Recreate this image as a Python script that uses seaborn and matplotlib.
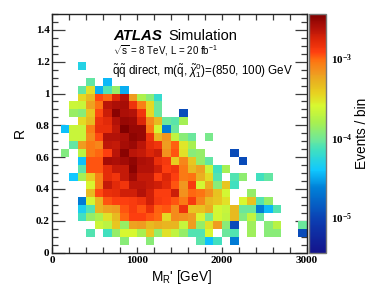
"""ATLAS simulation: R vs MR' event yields per bin (log colour scale)."""
import matplotlib
matplotlib.use("Agg")
import matplotlib.pyplot as plt
import numpy as np
import pandas as pd
import seaborn as sns
from matplotlib.colors import LinearSegmentedColormap, LogNorm
from matplotlib.ticker import FixedLocator, NullFormatter

W, H = 374, 290
na = np.nan

# log10(events / bin), one list per R bin (0.05 wide), MR' bins are 100 GeV wide
row_00 = []
row_01 = [na, na, na, na, na, na, na, na, -3.92, na, na, -3.92, na, na, na, na, na, -4.08, -4.43, -4.15, na, -4.66]
row_02 = [na, na, na, na, -4.1, na, -4.15, -3.88, -3.6, -3.6, -3.8, -3.4, -3.88, -3.5, -3.7, -3.88, -4.1, -4.1, -3.6, na, -4.03, -4.1, na, -3.84, na, -3.92, -3.92, na, na, -4.95]
row_03 = [na, na, na, na, na, -3.65, -3.72, -3.38, -3.86, -3.22, -3.2, -3.33, -3.27, -3.3, -3.3, -3.68, -3.2, -3.88, -3.5, -3.2, -3.92, -4.95, na, -3.84, na, -3.92, -3.74, na, na, -4.03]
row_04 = [na, na, na, -4.15, -3.88, -3.78, -3.5, -3.33, -3.0, -2.92, -2.92, -2.96, -3.0, -3.46, -3.12, -3.15, -3.2, -3.58, -3.97, -3.62, -3.7, -3.33, -3.95, -3.7, -4.03]
row_05 = [na, na, na, -4.35, -4.1, -3.3, -3.22, -3.2, -2.96, -2.89, -2.96, -2.82, -2.98, -2.96, -3.12, -2.84, -3.38, -3.36, -3.27, -3.62, -3.68, -3.33, -4.03, -4.03, -4.66, -4.45, -4.1]
row_06 = [na, na, na, -4.66, -3.62, -3.3, -2.96, -2.92, -2.92, -2.89, -2.84, -2.72, -2.88, -2.92, -2.96, -3.05, -2.89, -3.1, -3.33, -3.38, -3.5, na, -3.6, -3.36, -4.1, -3.88]
row_07 = [na, na, na, na, -3.33, -2.94, -2.82, -2.8, -2.72, -2.72, -2.62, -2.72, -2.9, -2.9, -2.7, -3.15, -3.0, -3.03, -3.15, -3.36, -3.62, na, na, -3.88]
row_08 = [na, na, na, na, -3.58, -3.08, -2.68, -2.78, -2.86, -2.64, -2.64, -2.68, -2.72, -2.78, -2.96, -3.17, -2.89, -3.62, -3.27, -3.92, -3.38, -4.15]
row_09 = [na, na, -4.4, -3.82, -3.42, -3.08, -2.8, -2.86, -2.68, -2.55, -2.68, -2.68, -2.9, -2.76, -2.92, -3.05, -3.02, -3.28, -3.48, -4.1, na, -4.1, -3.9, na, -4.15, -4.05]
row_10 = [na, na, na, -4.08, -2.96, -2.96, -2.8, -2.68, -2.68, -2.48, -2.62, -2.62, -2.72, -2.92, -2.86, -3.05, -3.33, -3.22, -3.65, -4.15, -3.82]
row_11 = [na, na, na, -4.43, -2.96, -2.96, -2.58, -2.6, -2.56, -2.5, -2.6, -2.62, -2.82, -2.88, -3.42, -3.1, -3.38, -3.88, -4.05, na, na, na, -4.95]
row_12 = [na, -3.95, na, -3.72, -3.05, -3.0, -2.92, -2.64, -2.48, -2.64, -2.68, -2.76, -2.7, -3.15, -2.96, -3.5, -3.92, -3.88, na, na, na, -4.95]
row_13 = [na, na, -4.05, -3.2, -3.05, -3.1, -2.66, -2.68, -2.58, -2.54, -2.64, -2.8, -2.86, -3.2, -2.98, -3.52, -3.8]
row_14 = [na, na, -3.66, -3.66, -3.12, -2.94, -2.62, -2.62, -2.6, -2.49, -2.53, -2.84, -3.3, -3.16, -3.7, -3.92, -4.03, na, -3.98]
row_15 = [na, -4.43, -3.66, -3.66, -3.07, -2.82, -2.82, -2.66, -2.44, -2.53, -2.53, -3.04, -3.62, -4.66, -4.03]
row_16 = [na, na, na, -3.48, -3.33, -2.84, -2.78, -2.62, -2.53, -2.55, -2.76, -3.12, -3.32, -4.03, -4.08, -3.82]
row_17 = [na, na, -3.86, -3.92, -3.38, -2.94, -2.7, -2.48, -2.6, -2.62, -2.86, -3.46, -4.03, na, na, -4.95]
row_18 = [na, na, -3.65, -3.66, -3.22, -3.02, -2.64, -2.6, -2.58, -2.84, -3.08, -3.46, -4.03]
row_19 = [na, na, na, -3.46, -3.33, -2.94, -3.0, -2.76, -2.62, -3.2, -3.78, -3.92, -4.2]
row_20 = [na, na, na, -4.05, -3.5, -4.48, -4.1, -3.88, -4.48]
row_21 = [na, na, na, na, -4.05, na, -4.45]
row_22 = []
row_23 = [na, na, na, -4.3]

rows = [row_00, row_01, row_02, row_03, row_04, row_05, row_06, row_07, row_08,
        row_09, row_10, row_11, row_12, row_13, row_14, row_15, row_16, row_17,
        row_18, row_19, row_20, row_21, row_22, row_23]

x_ticks = [0, 1000, 2000, 3000]
x_tick_labels = ["0", "1000", "2000", "3000"]
y_ticks = [0, 0.2, 0.4, 0.6, 0.8, 1.0, 1.2, 1.4]
y_tick_labels = ["0", "0.2", "0.4", "0.6", "0.8", "1", "1.2", "1.4"]
cbar_ticks = [1e-5, 1e-4, 1e-3]

N_X, N_Y = 30, 30
DX, DY = 100, 0.05

grid = np.full((N_Y, N_X), np.nan)
for i, row in enumerate(rows):
    grid[i, :len(row)] = row
df = pd.DataFrame(10.0 ** grid)

sns.set_style("ticks")
plt.rcParams["font.family"] = ["Liberation Sans", "DejaVu Sans"]
plt.rcParams["text.color"] = "black"
plt.rcParams["xtick.labelcolor"] = "black"
plt.rcParams["ytick.labelcolor"] = "black"
plt.rcParams["mathtext.fontset"] = "custom"
plt.rcParams["mathtext.rm"] = "Liberation Sans"
plt.rcParams["mathtext.it"] = "Liberation Sans:italic"
plt.rcParams["mathtext.bf"] = "Liberation Serif:bold"

# ROOT style rainbow, stops follow the colour bar of the reference
stops = [
    (0.00, "#14148c"), (0.13, "#0c3cb0"), (0.27, "#0080d8"), (0.345, "#10c8ff"),
    (0.43, "#40e0c0"), (0.475, "#70e898"), (0.545, "#a8f050"), (0.615, "#d8f830"),
    (0.67, "#e8d020"), (0.71, "#e8b820"), (0.755, "#f09820"), (0.81, "#ff7010"),
    (0.84, "#ff4010"), (0.89, "#e02808"), (0.945, "#b01008"), (1.00, "#800000"),
]
cmap = LinearSegmentedColormap.from_list("atlas", stops)
norm = LogNorm(vmin=10 ** -5.44, vmax=10 ** -2.44)

fig = plt.figure(figsize=(W / 100, H / 100), dpi=100)
ax = fig.add_axes([52.3 / W, 1 - 252.5 / H, 254.2 / W, 238.5 / H])
cax = fig.add_axes([308.5 / W, 1 - 252.5 / H, 17 / W, 238.5 / H])

sns.heatmap(df, ax=ax, cbar_ax=cax, cmap=cmap, norm=norm,
            xticklabels=False, yticklabels=False, linewidths=0)
ax.invert_yaxis()

line_col = "#3c3c3c"
for spine in ax.spines.values():
    spine.set_visible(True)
    spine.set_color("#222222")
    spine.set_linewidth(1.0)

tick_font = {"family": "Liberation Serif", "weight": "bold", "size": 8.0}
ax.set_xticks([v / DX for v in x_ticks])
ax.set_xticklabels(x_tick_labels, rotation=0, **tick_font)
ax.set_yticks([v / DY for v in y_ticks])
ax.set_yticklabels(y_tick_labels, rotation=0, **tick_font)
ax.set_xticks(np.arange(0, 3001, 200) / DX, minor=True)
ax.set_yticks(np.arange(0, 1.501, 0.05) / DY, minor=True)
ax.tick_params(which="major", direction="in", length=9, width=0.9, color=line_col,
               top=True, right=True, bottom=True, left=True, pad=2)
ax.tick_params(which="minor", direction="in", length=4.5, width=0.9, color=line_col,
               top=True, right=True, bottom=True, left=True)
ax.tick_params(axis="x", which="major", length=4.5, pad=2.5)
ax.set_xlabel("")
ax.set_ylabel("")

cbar = ax.collections[0].colorbar
cbar.outline.set_edgecolor("#777777")
cbar.outline.set_linewidth(1.0)
cbar.ax.yaxis.set_major_locator(FixedLocator(cbar_ticks))
cbar.ax.yaxis.set_minor_locator(FixedLocator(
    [m * 10.0 ** e for e in (-6, -5, -4, -3) for m in range(2, 10)
     if 10 ** -5.44 < m * 10.0 ** e < 10 ** -2.44]))
cbar.ax.yaxis.set_minor_formatter(NullFormatter())
cbar.ax.set_yticklabels([r"$\mathbf{10^{-5}}$", r"$\mathbf{10^{-4}}$", r"$\mathbf{10^{-3}}$"],
                        fontsize=8.0)
cbar.ax.tick_params(which="major", direction="in", length=9, width=0.9, color="#222222",
                    right=True, left=False, pad=4)
cbar.ax.tick_params(which="minor", direction="in", length=4.5, width=0.9, color="#333333",
                    right=True, left=False)


def px_text(x, y, s, **kw):
    # place a text by its pixel position in the picture
    return fig.text(x / W, 1 - y / H, s, **kw)


px_text(113, 40.5, "ATLAS", fontsize=10.8, weight="bold", style="italic", va="baseline")
px_text(168, 40.5, "Simulation", fontsize=10.5, va="baseline")
px_text(113, 54, r"$\sqrt{\mathrm{s}}$ = 8 TeV, L = 20 fb$^{-1}$", fontsize=7.0,
        va="baseline")
px_text(112, 74,
        r"$\tilde{\mathrm{q}}\tilde{\mathrm{q}}$ direct, m($\tilde{\mathrm{q}}$, "
        r"$\tilde{\chi}_{1}^{0}$)=(850, 100) GeV",
        fontsize=8.4, va="baseline")
px_text(151, 281, "M$_{\\mathrm{R}}$' [GeV]", fontsize=9.8, va="baseline")
px_text(20, 133, "R", fontsize=10, rotation=90, ha="center", va="center")
px_text(362, 133, "Events / bin", fontsize=9.8, rotation=90, ha="center", va="center")

fig.savefig("out.png", dpi=100)
